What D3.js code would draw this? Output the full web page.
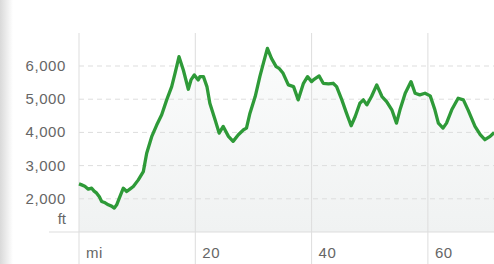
<!DOCTYPE html>
<html>
<head>
<meta charset="utf-8">
<script src="https://cdn.jsdelivr.net/npm/d3@7"></script>
<style>
  html, body { margin: 0; padding: 0; background: #fff; }
  svg { display: block; font-family: "Liberation Sans", Arial, sans-serif; }
</style>
</head>
<body>
<svg id="chart" width="494" height="264"></svg>
<script>
// elevation profile, miles vs feet
var miles = [0, 0.46, 1.0, 1.6, 2.18, 2.6, 3.04, 3.5, 3.9, 4.5, 5.04, 5.6, 6.07, 6.48, 7.0, 7.62, 8.2, 8.8, 9.34, 10.2, 11.06, 11.64,
  12.5, 13.36, 14.22, 15.08, 15.94, 16.51, 17.2, 17.94, 18.8, 19.26, 19.83, 20.5, 20.8, 21.4, 22.0, 22.5, 23.4, 24.1,
  24.8, 25.7, 26.5, 27.4, 28.3, 28.8, 29.4, 30.3, 31.1, 31.7, 32.4, 33.1, 33.9, 34.4, 35.1, 36.0, 36.9, 37.7, 38.6,
  39.3, 40.0, 40.3, 41.3, 42.0, 42.9, 43.7, 44.3, 45.2, 46.0, 46.8, 47.5, 48.3, 48.9, 49.5, 50.3, 51.2, 52.1, 52.9,
  53.8, 54.6, 55.2, 56.1, 57.1, 57.8, 58.6, 59.5, 60.4, 61.2, 61.8, 62.6, 63.2, 64.1, 65.2, 66.1, 66.9, 68.1, 69.0,
  69.8, 70.7, 71.4];
var feet = [2450, 2420, 2380, 2290, 2320, 2230, 2170, 2060, 1920, 1880, 1820, 1780, 1720, 1820, 2050, 2320, 2220, 2300, 2370, 2570, 2820, 3370,
  3870, 4220, 4530, 4980, 5380, 5780, 6280, 5880, 5300, 5580, 5730, 5580, 5680, 5680, 5380, 4880, 4380, 3980,
  4180, 3880, 3730, 3930, 4080, 4130, 4580, 5080, 5680, 6080, 6530, 6230, 5980, 5930, 5780, 5430, 5380, 4980, 5480,
  5680, 5530, 5580, 5700, 5480, 5460, 5480, 5380, 4980, 4580, 4200, 4480, 4880, 4980, 4830, 5080, 5430, 5080, 4930,
  4680, 4280, 4680, 5180, 5530, 5180, 5130, 5180, 5100, 4680, 4280, 4130, 4280, 4680, 5030, 4980, 4680, 4180, 3930,
  3780, 3880, 4000];
var xTicks = [0, 20, 40, 60];
var yTicks = [2000, 3000, 4000, 5000, 6000];

var svg = d3.select("#chart"),
    width = +svg.attr("width"),
    height = +svg.attr("height");

var x = d3.scaleLinear().domain([0, 20]).range([79, 195.3]);
var y = d3.scaleLinear().domain([1000, 6000]).range([232, 66]);

var data = miles.map(function (m, i) { return { m: m, ft: feet[i] }; });

var defs = svg.append("defs");
var shade = defs.append("linearGradient").attr("id", "shade").attr("x1", 0).attr("x2", 1).attr("y1", 0).attr("y2", 0);
shade.append("stop").attr("offset", 0).attr("stop-color", "#d9d9d9");
shade.append("stop").attr("offset", 1).attr("stop-color", "#fff");
var fill = defs.append("linearGradient").attr("id", "fill").attr("x1", 0).attr("x2", 0).attr("y1", 0).attr("y2", 1);
fill.append("stop").attr("offset", 0).attr("stop-color", "#fbfcfc");
fill.append("stop").attr("offset", 1).attr("stop-color", "#f0f2f2");

// grey shadow strip on the left
svg.append("rect").attr("x", 0).attr("y", 0).attr("width", 13).attr("height", height).attr("fill", "url(#shade)");

// area under the profile
svg.append("path")
    .datum(data)
    .attr("fill", "url(#fill)")
    .attr("d", d3.area().x(function (d) { return x(d.m); }).y0(y(1000)).y1(function (d) { return y(d.ft); }));

// horizontal dashed grid
svg.append("g")
    .selectAll("line")
    .data(yTicks)
    .enter().append("line")
    .attr("x1", 79).attr("x2", width)
    .attr("y1", function (d) { return y(d); })
    .attr("y2", function (d) { return y(d); })
    .attr("stroke", "#ddd")
    .attr("stroke-dasharray", "5,4");

// vertical grid
svg.append("g")
    .selectAll("line")
    .data(xTicks)
    .enter().append("line")
    .attr("x1", function (d) { return x(d); })
    .attr("x2", function (d) { return x(d); })
    .attr("y1", 33).attr("y2", height)
    .attr("stroke", "#ddd");

// baseline
svg.append("line")
    .attr("x1", 49).attr("x2", width)
    .attr("y1", y(1000)).attr("y2", y(1000))
    .attr("stroke", "#ddd");

// profile line
svg.append("path")
    .datum(data)
    .attr("fill", "none")
    .attr("stroke", "#2e9a38")
    .attr("stroke-width", 3.3)
    .attr("stroke-linejoin", "round")
    .attr("d", d3.line().x(function (d) { return x(d.m); }).y(function (d) { return y(d.ft); }));

// y labels
svg.append("g")
    .selectAll("text")
    .data(yTicks)
    .enter().append("text")
    .attr("x", 66)
    .attr("y", function (d) { return y(d) + 5; })
    .attr("text-anchor", "end")
    .attr("font-size", 15)
    .attr("letter-spacing", 0.6)
    .attr("fill", "#666")
    .text(function (d) { return d3.format(",")(d); });

svg.append("text")
    .attr("x", 66).attr("y", 224)
    .attr("text-anchor", "end")
    .attr("font-size", 15)
    .attr("fill", "#666")
    .text("ft");

// x labels
svg.append("g")
    .selectAll("text")
    .data(xTicks)
    .enter().append("text")
    .attr("x", function (d) { return x(d) + 7; })
    .attr("y", 258)
    .attr("font-size", 15)
    .attr("letter-spacing", 0.6)
    .attr("fill", "#666")
    .text(function (d) { return d === 0 ? "mi" : d; });
</script>
</body>
</html>
